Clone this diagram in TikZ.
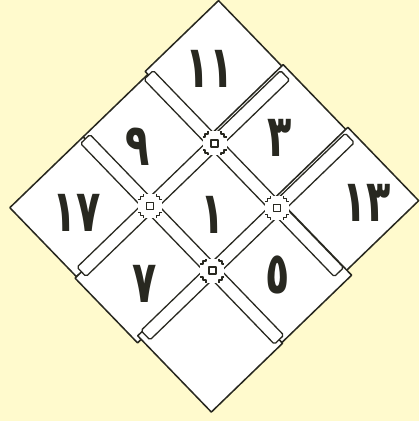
\documentclass[tikz,border=0pt]{standalone}
\usepackage{fontspec}
\usepackage{graphicx}
\newfontfamily\arabicfont[Script=Arabic]{DejaVu Sans}
\definecolor{paper}{RGB}{255,250,205}
\definecolor{ink}{RGB}{40,40,32}
\newcommand\tilenum[1]{\scalebox{0.68}[1]{#1}}
\tikzset{
  tile/.style={fill=white, draw=ink, line width=1.3pt, line join=round},
  band/.style={fill=white, draw=ink, line width=1.1pt, rounded corners=1.5pt},
  numeral/.style={font=\arabicfont\bfseries\fontsize{50}{50}\selectfont, text=ink, inner sep=0pt},
  knot/.pic={
    \fill[white] (-12,-12) rectangle (12,12);
    \draw[ink, line width=1.1pt, line join=round]
      (-12,-6.5) -- (-9.5,-6.5) -- (-9.5,-9.5) -- (-6.5,-9.5) -- (-6.5,-12)
      (6.5,-12) -- (6.5,-9.5) -- (9.5,-9.5) -- (9.5,-6.5) -- (12,-6.5)
      (12,6.5) -- (9.5,6.5) -- (9.5,9.5) -- (6.5,9.5) -- (6.5,12)
      (-6.5,12) -- (-6.5,9.5) -- (-9.5,9.5) -- (-9.5,6.5) -- (-12,6.5)
      (-3.5,-3.5) rectangle (3.5,3.5);
  }
}
\begin{document}
\begin{tikzpicture}[x=0.03cm, y=-0.03cm]
  \fill[paper] (0,0) rectangle (419,421);
  \useasboundingbox (0,0) rectangle (419,421);

  \begin{scope}[shift={(213.5,207)}, rotate=-46]
    % tiles, top row first
    \draw[tile] (-145,-147) rectangle (-45,-45);
    \draw[tile] (-54,-149) rectangle (45,-45);
    \draw[tile] (36,-152) rectangle (138,-45);
    \draw[tile] (-141,-45) rectangle (-45,45);
    \draw[tile] (-45,-45) rectangle (45,45);
    \draw[tile] (45,-52) rectangle (145,45);
    \draw[tile] (-141,45) rectangle (-45,147);
    \draw[tile] (-45,45) rectangle (45,149);
    \draw[tile] (40,45) rectangle (146,144);
    % bands
    \draw[band] (-140,-51.5) rectangle (134,-38.5);
    \draw[band] (-138,38.5) rectangle (141,51.5);
    \draw[band] (-51.5,-143) rectangle (-38.5,140);
    \draw[band] (38.5,-146) rectangle (51.5,138);
    \foreach \u/\v in {-45/-45, 45/-45, -45/45, 45/45}
      \pic at (\u,\v) {knot};
  \end{scope}

  \node[numeral] (n11) at (210,69) {\tilenum{١١}};
  \node[numeral] (n9)  at (138,147) {\tilenum{٩}};
  \node[numeral] (n3)  at (280,138) {\tilenum{٣}};
  \node[numeral] (n17) at (77,213) {\tilenum{١٧}};
  \node[numeral] (n1)  at (213,215) {\tilenum{١}};
  \node[numeral] (n13) at (367,203) {\tilenum{١٣}};
  \node[numeral] (n7)  at (145,284) {\tilenum{٧}};
  \node[numeral] (n5)  at (278,275) {\tilenum{٥}};
\end{tikzpicture}
\end{document}
